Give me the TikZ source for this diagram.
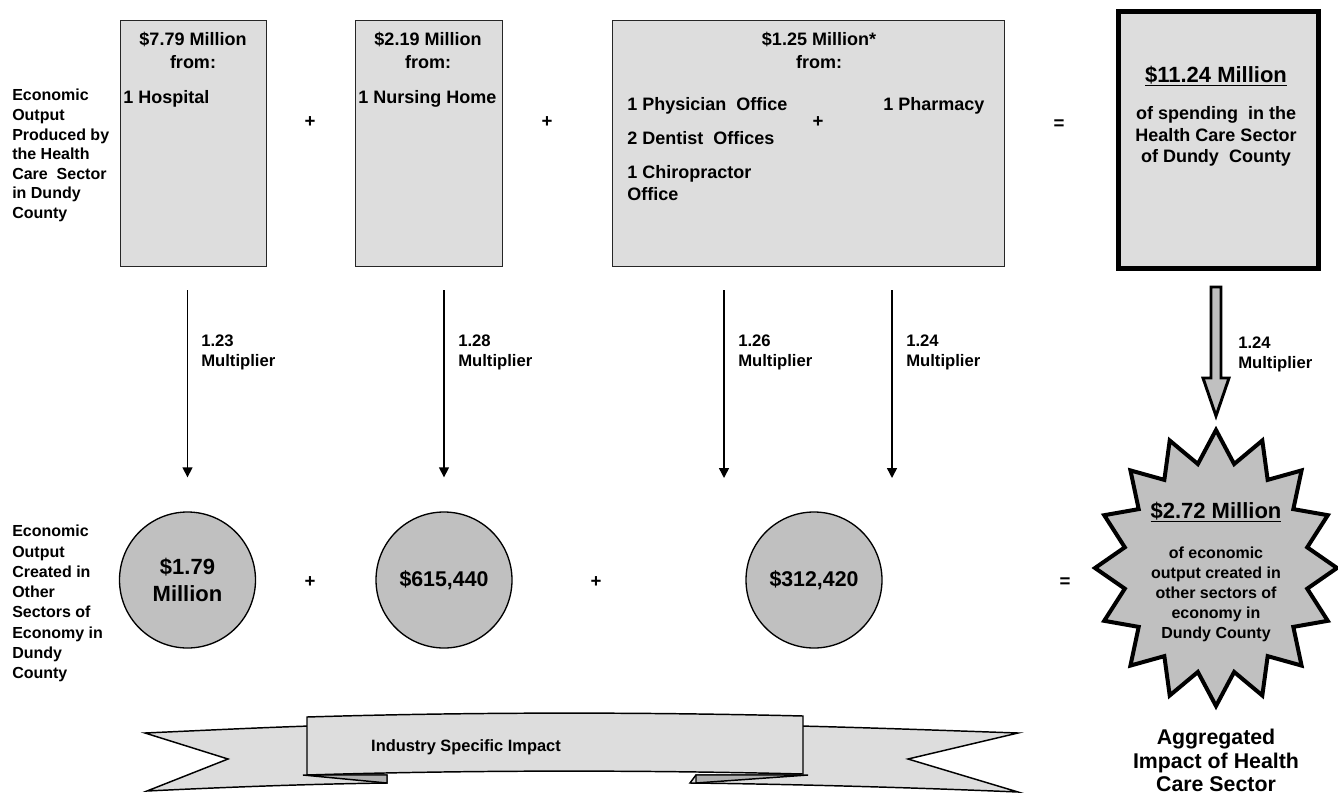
\documentclass[tikz,border=0pt]{standalone}
\usepackage{fontspec}
\setmainfont{Liberation Sans}
\usetikzlibrary{arrows.meta}
\definecolor{boxgray}{HTML}{DDDDDD}
\definecolor{cgray}{HTML}{C0C0C0}
\definecolor{foldgray}{HTML}{B0B0B0}
\begin{document}
\begin{tikzpicture}[x=0.75pt,y=-0.75pt,
  box/.style={draw=black!85, line width=1.1pt, fill=boxgray, inner sep=0, anchor=north west},
  totbox/.style={draw=black, line width=3.75pt, fill=boxgray, inner sep=0, anchor=north west},
  circ/.style={circle, draw=black, line width=1pt, fill=cgray, minimum size=102pt, inner sep=0, align=center},
  arr/.style={line width=1.1pt, -{Triangle[width=7.5pt,length=7.5pt]}},
  leftlab/.style={font=\fontsize{12}{14.7}\selectfont\bfseries, align=left, inner sep=0, anchor=north west},
  title/.style={font=\fontsize{13.5}{17.5}\selectfont\bfseries, align=center, inner sep=0, anchor=north},
  item/.style={font=\fontsize{13.5}{17}\selectfont\bfseries, align=left, inner sep=0, anchor=north west},
  mult/.style={font=\fontsize{12.5}{15}\selectfont\bfseries, align=left, inner sep=0, anchor=north west},
  op/.style={font=\fontsize{14}{16}\selectfont\bfseries, inner sep=0},
  ctext/.style={font=\fontsize{16.5}{20}\selectfont\bfseries},
  big/.style={font=\fontsize{16.5}{20}\selectfont\bfseries, inner sep=0},
  small/.style={font=\fontsize{12}{15}\selectfont\bfseries, align=center, inner sep=0, anchor=north},
]
\useasboundingbox (0,0) rectangle (1338,799);

% ---------- top row boxes ----------
\node[box, minimum width=109.5pt, minimum height=184.5pt] (b1) at (120,20) {};
\node[box, minimum width=110pt, minimum height=184.5pt] (b2) at (355,20) {};
\node[box, minimum width=294pt, minimum height=184.5pt] (b3) at (612,20) {};
\node[totbox, minimum width=150pt, minimum height=192pt] (b4) at (1115.5,9.5) {};

\node[leftlab] (l1) at (12,89) {Economic\\Output\\Produced by\\the Health\\Care~ Sector\\in Dundy\\County};

\node[title] (t1) at (193,32) {\$7.79 Million\\from:};
\node[item] (i1) at (123,90) {1 Hospital};
\node[title] (t2) at (428,32) {\$2.19 Million\\from:};
\node[item] (i2) at (358,90) {1 Nursing Home};
\node[title] (t3) at (819,32) {\$1.25 Million*\\from:};
\node[item] (i3) at (627,97) {1 Physician~ Office\\[8.5pt]2 Dentist~ Offices\\[8.5pt]1 Chiropractor\\Office};
\node[item] (i4) at (883,97) {1 Pharmacy};
\node[op] (p3) at (818,122) {+};

\node[big] (tot) at (1216,76) {\underline{\$11.24 Million}};
\node[title, font=\fontsize{13.5}{16.3}\selectfont\bfseries] (tottxt) at (1216,106) {of spending~ in the\\Health Care Sector\\of Dundy~ County};

\node[op] (p1) at (310,122) {+};
\node[op] (p2) at (547,122) {+};
\node[op] (e1) at (1059,125) {=};

% ---------- circles ----------
\node[circ, ctext] (c1) at (187.5,580) {\$1.79\\Million};
\node[circ, font=\fontsize{16}{20}\selectfont\bfseries] (c2) at (444,580) {\$615,440};
\node[circ, font=\fontsize{16}{20}\selectfont\bfseries] (c3) at (814,580) {\$312,420};

\node[leftlab, font=\fontsize{12}{15.2}\selectfont\bfseries] (l2) at (12,525) {Economic\\Output\\Created in\\Other\\Sectors of\\Economy in\\Dundy\\County};

\node[op] (p4) at (310,582) {+};
\node[op] (p5) at (596,582) {+};
\node[op] (e2) at (1065,583) {=};

% ---------- arrows ----------
\coordinate (a3) at (724,478);
\coordinate (a4) at (892,478);
\draw[arr, shorten <=17.25pt, shorten >=25.5pt] (b1.south -| c1) -- (c1.north);
\draw[arr, shorten <=17.25pt, shorten >=25.5pt] (b2.south -| c2) -- (c2.north);
\draw[arr, shorten <=17.25pt] (b3.south -| a3) -- (a3);
\draw[arr, shorten <=17.25pt] (b3.south -| a4) -- (a4);

\node[mult] (m1) at (201,335) {1.23\\Multiplier};
\node[mult] (m2) at (458,335) {1.28\\Multiplier};
\node[mult] (m3) at (738,335) {1.26\\Multiplier};
\node[mult] (m4) at (906,335) {1.24\\Multiplier};
\node[mult] (m5) at (1238,337) {1.24\\Multiplier};

% big arrow
\draw[line width=2.2pt, fill=cgray, line join=miter] (1211,287) -- (1221,287) -- (1221,378) -- (1229,378) -- (1216,416) -- (1203,378) -- (1211,378) -- cycle;

% ---------- starburst ----------
\begin{scope}[shift={(1216,568)}]
\coordinate (st) at (0,0);
\draw[line width=3pt, fill=cgray, line join=miter, miter limit=4]
  (121,0) \foreach \i [evaluate=\i as \a using \i*11.25,
     evaluate=\i as \rx using {ifthenelse(mod(\i,2)==0,121,93)},
     evaluate=\i as \ry using {ifthenelse(mod(\i,2)==0,138,106)}] in {1,...,31} { -- ({\rx*cos(\a)},{\ry*sin(\a)}) } -- cycle;
\end{scope}
\node[big] (sttitle) at (1216,512) {\underline{\$2.72 Million}};
\node[small] (sttxt) at (1216,547) {of economic\\output created in\\other sectors of\\economy in\\Dundy County};

\node[big, align=center, anchor=north, font=\fontsize{16}{17.5}\selectfont\bfseries] (agg) at (1216,729) {Aggregated\\Impact of Health\\Care Sector};

% ---------- ribbon ----------
\begin{scope}[line width=1.1pt, line join=miter]
\draw[fill=boxgray] (310,726) .. controls (250,728) and (190,731) .. (145,733) -- (228,759) -- (147,791)
   .. controls (230,787) and (310,784) .. (387,783) -- (387,775) -- (310,775) -- cycle;
\draw[fill=boxgray] (800,726) .. controls (880,728) and (960,731) .. (1018,733) -- (908,759) -- (1018,792)
   .. controls (900,787) and (780,784) .. (690,783) -- (696,775) -- (800,775) -- cycle;
\draw[fill=foldgray] (303,775) -- (387,775) -- (387,783) -- cycle;
\draw[fill=foldgray] (696,775) -- (808,775) -- (696,783) -- cycle;
\draw[fill=boxgray] (307,717) .. controls (470,712) and (640,712) .. (803,716) -- (803,774)
   .. controls (640,770) and (470,770) .. (307,775) -- cycle;
\end{scope}
\node[font=\fontsize{12.3}{15}\selectfont\bfseries, inner sep=0] (rib) at (466,747) {Industry Specific Impact};
\end{tikzpicture}
\end{document}
